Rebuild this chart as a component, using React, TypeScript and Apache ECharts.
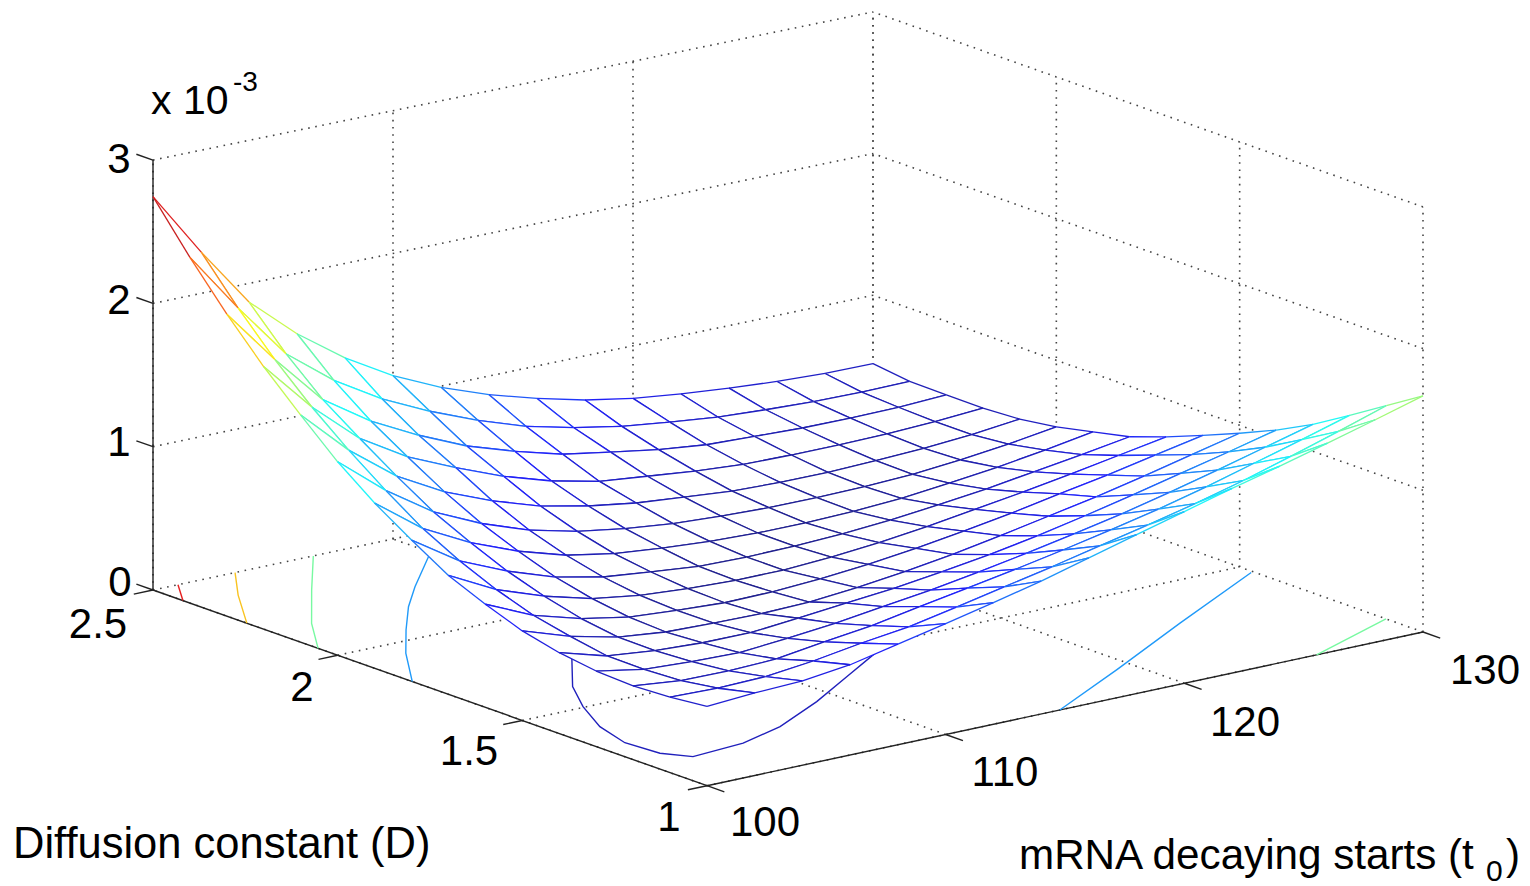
import React, { useEffect, useRef } from "react";
import * as echarts from "echarts";

// Axis values
const t0Values = [100, 102, 104, 106, 108, 110, 112, 114, 116, 118, 120, 122, 124, 126, 128, 130];
const dValues = [1, 1.1, 1.2, 1.3, 1.4, 1.5, 1.6, 1.7, 1.8, 1.9, 2, 2.1, 2.2, 2.3, 2.4, 2.5];
const t0Ticks = [100, 110, 120, 130];
const dTicks = [1, 1.5, 2, 2.5];
const zTicks = [0, 1, 2, 3];

// Surface heights (x 10^-3), one row per diffusion constant, one column per t0
const zD10 = [0.553, 0.576, 0.59, 0.631, 0.704, 0.777, 0.852, 0.932, 1.024, 1.116, 1.207, 1.299, 1.384, 1.475, 1.569, 1.666];
const zD11 = [0.527, 0.518, 0.528, 0.566, 0.619, 0.663, 0.73, 0.8, 0.87, 0.945, 1.02, 1.1, 1.19, 1.29, 1.395, 1.505];
const zD12 = [0.514, 0.48, 0.477, 0.489, 0.537, 0.58, 0.641, 0.7, 0.76, 0.825, 0.895, 0.97, 1.055, 1.15, 1.245, 1.345];
const zD13 = [0.527, 0.468, 0.45, 0.442, 0.471, 0.505, 0.55, 0.595, 0.65, 0.71, 0.775, 0.845, 0.925, 1.01, 1.1, 1.19];
const zD14 = [0.564, 0.47, 0.436, 0.42, 0.419, 0.449, 0.483, 0.516, 0.56, 0.61, 0.67, 0.74, 0.815, 0.895, 0.975, 1.058];
const zD15 = [0.625, 0.516, 0.44, 0.404, 0.395, 0.39, 0.4, 0.43, 0.47, 0.52, 0.58, 0.645, 0.71, 0.785, 0.865, 0.944];
const zD16 = [0.72, 0.572, 0.478, 0.417, 0.393, 0.375, 0.38, 0.4, 0.43, 0.47, 0.52, 0.575, 0.64, 0.7, 0.77, 0.837];
const zD17 = [0.83, 0.66, 0.543, 0.455, 0.407, 0.382, 0.369, 0.37, 0.39, 0.42, 0.46, 0.51, 0.56, 0.615, 0.675, 0.735];
const zD18 = [0.986, 0.77, 0.627, 0.515, 0.444, 0.408, 0.376, 0.37, 0.375, 0.39, 0.415, 0.45, 0.49, 0.54, 0.59, 0.644];
const zD19 = [1.153, 0.906, 0.736, 0.604, 0.505, 0.445, 0.413, 0.389, 0.376, 0.375, 0.385, 0.405, 0.44, 0.48, 0.53, 0.586];
const zD20 = [1.35, 1.08, 0.859, 0.707, 0.589, 0.51, 0.458, 0.422, 0.403, 0.391, 0.39, 0.395, 0.41, 0.44, 0.48, 0.53];
const zD21 = [1.585, 1.27, 1.018, 0.837, 0.703, 0.596, 0.525, 0.475, 0.445, 0.416, 0.405, 0.405, 0.415, 0.43, 0.455, 0.493];
const zD22 = [1.831, 1.48, 1.19, 0.99, 0.845, 0.713, 0.609, 0.535, 0.5, 0.465, 0.44, 0.435, 0.435, 0.44, 0.455, 0.479];
const zD23 = [2.107, 1.72, 1.37, 1.15, 0.98, 0.834, 0.726, 0.634, 0.578, 0.524, 0.487, 0.474, 0.462, 0.46, 0.465, 0.481];
const zD24 = [2.412, 1.99, 1.6, 1.343, 1.144, 0.986, 0.852, 0.739, 0.658, 0.596, 0.555, 0.519, 0.499, 0.485, 0.48, 0.484];
const zD25 = [2.745, 2.29, 1.87, 1.578, 1.339, 1.144, 0.992, 0.869, 0.772, 0.69, 0.63, 0.59, 0.56, 0.535, 0.52, 0.518];
const zRows = [zD10, zD11, zD12, zD13, zD14, zD15, zD16, zD17, zD18, zD19, zD20, zD21, zD22, zD23, zD24, zD25];

// Contours on the floor: level and [t0, D] points
const c05a = [[105.82, 1.743], [103.8, 1.61], [102.6, 1.504], [101.56, 1.391], [101.03, 1.289], [101.17, 1.203], [101.78, 1.153], [104.08, 1.166], [106.26, 1.207], [109.06, 1.289], [111.7, 1.378], [114.16, 1.461]];
const c10a = [[109.62, 2.379], [107.06, 2.249], [105.42, 2.16], [103.64, 2.051], [101.92, 1.94], [100, 1.798]];
const c10b = [[129.9, 1.462], [124.34, 1.293], [119.24, 1.134], [114.78, 1]];
const c15a = [[106.68, 2.5], [104.12, 2.338], [101.67, 2.179], [100, 2.053]];
const c15b = [[130, 1.101], [125.54, 1]];
const c20a = [[103.42, 2.5], [101.84, 2.389], [100, 2.246]];
const c25a = [[101.04, 2.5], [100, 2.419]];
const contourLevels = [0.5, 1, 1, 1.5, 1.5, 2, 2.5];
const contourLines = [c05a, c10a, c10b, c15a, c15b, c20a, c25a];

// Projection of the axes box on the page
const FRONT = [707, 785.7];
const LEFT = [153, 590];
const RIGHT = [1423, 632];
const BACK = [873, 437];
const Z_SCALE_NEAR = 143.3;
const Z_SCALE_FAR = 141.7;

function project(t: number, d: number, z: number): [number, number] {
  const u = (t - 100) / 30;
  const v = (d - 1) / 1.5;
  const mix = (k: number) =>
    (1 - u) * (1 - v) * FRONT[k] + u * (1 - v) * RIGHT[k] + (1 - u) * v * LEFT[k] + u * v * BACK[k];
  const s = Z_SCALE_NEAR + (Z_SCALE_FAR - Z_SCALE_NEAR) * u;
  return [mix(0), mix(1) - z * s];
}

const Z_MIN = 0.369;
const Z_MAX = 2.745;
function jet(z: number): string {
  const x = Math.max(0, Math.min(1, (z - Z_MIN) / (Z_MAX - Z_MIN)));
  const ch = (c: number) => Math.max(0, Math.min(1, 1.5 - Math.abs(4 * x - c)));
  const soft = 0.85;
  const floor = 32;
  const f = (v: number) => Math.round(v * 255 * soft + floor);
  return `rgb(${f(ch(3))},${f(ch(2))},${f(ch(1))})`;
}

type Seg = [number, number, number, number, number, number, number];
// [t1, d1, z1, t2, d2, z2, kind] kind 0: dotted, 1: solid
function frameSegments(): Seg[] {
  const s: Seg[] = [];
  const T0 = 100, T1 = 130, D0 = 1, D1 = 2.5, Z1 = 3;
  // floor
  t0Ticks.forEach((t) => s.push([t, D0, 0, t, D1, 0, 0]));
  dTicks.forEach((d) => s.push([T0, d, 0, T1, d, 0, 0]));
  // wall D = 2.5
  t0Ticks.forEach((t) => s.push([t, D1, 0, t, D1, Z1, 0]));
  zTicks.slice(1).forEach((z) => s.push([T0, D1, z, T1, D1, z, 0]));
  // wall t0 = 130
  dTicks.forEach((d) => s.push([T1, d, 0, T1, d, Z1, 0]));
  zTicks.slice(1).forEach((z) => s.push([T1, D0, z, T1, D1, z, 0]));
  // solid axes
  s.push([T0, D1, 0, T0, D1, Z1, 1]);
  s.push([T0, D0, 0, T0, D1, 0, 1]);
  s.push([T0, D0, 0, T1, D0, 0, 1]);
  // ticks
  zTicks.forEach((z) => s.push([T0, D1, z, T0, D1 + 0.045, z, 1]));
  dTicks.forEach((d) => s.push([T0, d, 0, T0 - 0.8, d, 0, 1]));
  t0Ticks.forEach((t) => s.push([t, D0, 0, t, D0 - 0.047, 0, 1]));
  return s;
}

const FONT = '"Liberation Sans", Arial, sans-serif';
const TICK_SIZE = 42;
const tl = (text: string, x: number, y: number, size = TICK_SIZE, align = "center") => ({
  type: "text",
  x,
  y,
  silent: true,
  style: { text, fill: "#000", font: `${size}px ${FONT}`, align, verticalAlign: "middle" },
});

export default function App() {
  const ref = useRef<HTMLDivElement>(null);
  useEffect(() => {
    const chart = echarts.init(ref.current!, undefined, { renderer: "svg" });
    const cells: number[][] = [];
    for (let j = dValues.length - 2; j >= 0; j--) {
      for (let i = t0Values.length - 2; i >= 0; i--) cells.push([t0Values[i], dValues[j], i, j]);
    }
    cells.sort((a, b) => b[2] + b[3] - (a[2] + a[3]));

    const option: any = {
      animation: false,
      backgroundColor: "#fff",
      grid: { left: 0, right: 0, top: 0, bottom: 0 },
      xAxis: { type: "value", min: 0, max: 1530, show: false },
      yAxis: { type: "value", min: 0, max: 886, inverse: true, show: false },
      tooltip: { show: false },
      series: [
        {
          type: "custom",
          name: "frame",
          coordinateSystem: "cartesian2d",
          clip: false,
          silent: true,
          data: frameSegments(),
          encode: { x: 0, y: 1 },
          renderItem: (_p: any, api: any) => {
            const a = api.coord(project(api.value(0), api.value(1), api.value(2)));
            const b = api.coord(project(api.value(3), api.value(4), api.value(5)));
            const solid = api.value(6) === 1;
            return {
              type: "line",
              shape: { x1: a[0], y1: a[1], x2: b[0], y2: b[1] },
              style: solid
                ? { stroke: "#222", lineWidth: 1.4 }
                : { stroke: "#444", lineWidth: 1.6, lineDash: [1.6, 5.6] },
            };
          },
        },
        {
          type: "custom",
          name: "contours",
          coordinateSystem: "cartesian2d",
          clip: false,
          silent: true,
          data: contourLines.map((c, k) => [c[0][0], c[0][1], k]),
          encode: { x: 0, y: 1 },
          renderItem: (_p: any, api: any) => {
            const k = api.value(2);
            const pts = contourLines[k].map((q) => api.coord(project(q[0], q[1], 0)));
            return {
              type: "polyline",
              shape: { points: pts },
              style: { stroke: jet(contourLevels[k]), lineWidth: 1.4, fill: "none" },
            };
          },
        },
        {
          type: "custom",
          name: "surface",
          coordinateSystem: "cartesian2d",
          clip: false,
          silent: true,
          data: cells,
          encode: { x: 0, y: 1 },
          renderItem: (_p: any, api: any) => {
            const i = api.value(2);
            const j = api.value(3);
            const v = (a: number, b: number) => zRows[b][a];
            const p = (a: number, b: number) => api.coord(project(t0Values[a], dValues[b], v(a, b)));
            const c = [[i, j], [i + 1, j], [i + 1, j + 1], [i, j + 1]];
            const pts = c.map((q) => p(q[0], q[1]));
            const children: any[] = [
              { type: "polygon", shape: { points: pts }, style: { fill: "#fff", stroke: "none" } },
            ];
            for (let e = 0; e < 4; e++) {
              const q0 = c[e];
              const q1 = c[(e + 1) % 4];
              children.push({
                type: "line",
                shape: { x1: pts[e][0], y1: pts[e][1], x2: pts[(e + 1) % 4][0], y2: pts[(e + 1) % 4][1] },
                style: { stroke: jet((v(q0[0], q0[1]) + v(q1[0], q1[1])) / 2), lineWidth: 1.3 },
              });
            }
            return { type: "group", children };
          },
        },
      ],
      graphic: {
        elements: [
          tl("3", 119, 158),
          tl("2", 119, 299),
          tl("1", 119, 441),
          tl("0", 120, 581),
          tl("2.5", 98, 623),
          tl("2", 302, 686),
          tl("1.5", 469, 750),
          tl("1", 669, 816),
          tl("100", 765, 821),
          tl("110", 1005, 771),
          tl("120", 1245, 721),
          tl("130", 1485, 669),
          tl("x 10", 151, 100, 41, "left"),
          tl("-3", 233, 81, 28, "left"),
          tl("Diffusion constant (D)", 13, 843, 43.5, "left"),
          tl("mRNA decaying starts (t", 1019, 854, 42.2, "left"),
          tl("0", 1486, 870, 30, "left"),
          tl(")", 1506, 854, 42.2, "left"),
        ],
      },
    };
    chart.setOption(option);
    return () => chart.dispose();
  }, []);
  return (
    <div style={{ position: "fixed", left: 0, top: 0, width: 1530, height: 886 }}>
      <div ref={ref} style={{ width: 1530, height: 886 }} />
    </div>
  );
}
